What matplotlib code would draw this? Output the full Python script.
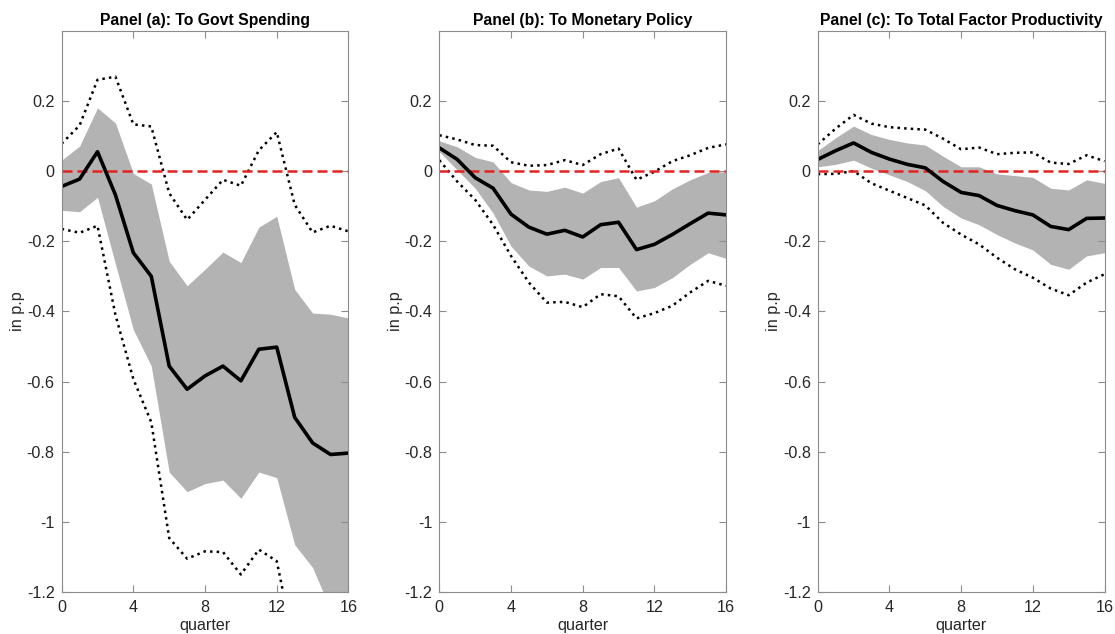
import matplotlib
matplotlib.use('Agg')
import matplotlib.pyplot as plt

plt.rcParams['font.family'] = ['Liberation Sans', 'DejaVu Sans']

quarters = list(range(17))

# panel (a): govt spending
a_med = [-0.044, -0.023, 0.055, -0.068, -0.233, -0.30, -0.556, -0.622, -0.584, -0.556,
         -0.598, -0.508, -0.502, -0.702, -0.775, -0.808, -0.804]
a_hi68 = [0.031, 0.071, 0.180, 0.137, -0.007, -0.037, -0.257, -0.327, -0.28, -0.231,
          -0.261, -0.16, -0.129, -0.337, -0.405, -0.408, -0.419]
a_lo68 = [-0.112, -0.116, -0.075, -0.265, -0.452, -0.556, -0.858, -0.914, -0.891, -0.881,
          -0.933, -0.858, -0.874, -1.065, -1.13, -1.25, -1.32]
a_hi90 = [0.078, 0.13, 0.26, 0.269, 0.133, 0.127, -0.063, -0.139, -0.082, -0.025,
          -0.042, 0.059, 0.111, -0.096, -0.175, -0.156, -0.172]
a_lo90 = [-0.165, -0.176, -0.156, -0.41, -0.593, -0.716, -1.046, -1.105, -1.084, -1.086,
          -1.15, -1.079, -1.112, -1.36, -1.5, -1.6, -1.65]

# panel (b): monetary policy
b_med = [0.066, 0.033, -0.019, -0.049, -0.123, -0.160, -0.180, -0.169, -0.188, -0.153,
         -0.146, -0.224, -0.209, -0.181, -0.150, -0.120, -0.125]
b_hi68 = [0.086, 0.069, 0.039, 0.026, -0.033, -0.054, -0.058, -0.046, -0.063, -0.030,
          -0.019, -0.103, -0.085, -0.051, -0.025, -0.004, -0.002]
b_lo68 = [0.055, 0.003, -0.049, -0.12, -0.214, -0.271, -0.299, -0.294, -0.308, -0.275,
          -0.275, -0.342, -0.332, -0.304, -0.266, -0.233, -0.249]
b_hi90 = [0.102, 0.090, 0.074, 0.072, 0.025, 0.015, 0.017, 0.031, 0.017, 0.048,
          0.064, -0.025, -0.002, 0.028, 0.045, 0.066, 0.076]
b_lo90 = [0.031, -0.030, -0.082, -0.153, -0.242, -0.318, -0.375, -0.373, -0.388, -0.351,
          -0.357, -0.42, -0.405, -0.384, -0.346, -0.313, -0.327]

# panel (c): TFP
c_med = [0.033, 0.058, 0.080, 0.053, 0.034, 0.019, 0.009, -0.030, -0.061, -0.070,
         -0.098, -0.113, -0.125, -0.158, -0.167, -0.135, -0.134]
c_hi68 = [0.058, 0.095, 0.128, 0.104, 0.090, 0.080, 0.074, 0.042, 0.012, 0.012,
          -0.008, -0.013, -0.018, -0.049, -0.054, -0.025, -0.035]
c_lo68 = [0.012, 0.019, 0.031, 0.008, -0.011, -0.030, -0.056, -0.101, -0.134, -0.153,
          -0.181, -0.205, -0.225, -0.266, -0.280, -0.242, -0.233]
c_hi90 = [0.076, 0.121, 0.160, 0.135, 0.125, 0.121, 0.118, 0.092, 0.062, 0.067,
          0.048, 0.052, 0.053, 0.024, 0.020, 0.045, 0.028]
c_lo90 = [-0.009, -0.008, 0.0, -0.035, -0.056, -0.077, -0.098, -0.148, -0.181, -0.209,
          -0.247, -0.280, -0.304, -0.335, -0.354, -0.318, -0.294]

titles = ['Panel (a): To Govt Spending', 'Panel (b): To Monetary Policy',
          'Panel (c): To Total Factor Productivity']
yticks = [-1.2, -1, -0.8, -0.6, -0.4, -0.2, 0, 0.2]
ytick_labels = ['-1.2', '-1', '-0.8', '-0.6', '-0.4', '-0.2', '0', '0.2']
xticks = [0, 4, 8, 12, 16]

panels = [
    (a_med, a_hi68, a_lo68, a_hi90, a_lo90),
    (b_med, b_hi68, b_lo68, b_hi90, b_lo90),
    (c_med, c_hi68, c_lo68, c_hi90, c_lo90),
]
lefts = [0.0553, 0.394, 0.7334]

fig = plt.figure(figsize=(11.15, 6.34), dpi=100)

for i, (med, hi68, lo68, hi90, lo90) in enumerate(panels):
    ax = fig.add_axes([lefts[i], 0.0662, 0.2572, 0.8854])
    ax.fill_between(quarters, lo68, hi68, color='#b3b3b3', linewidth=0)
    ax.plot(quarters, hi90, color='black', linestyle=':', linewidth=1.8)
    ax.plot(quarters, lo90, color='black', linestyle=':', linewidth=1.8)
    ax.axhline(0, color='#e3231f', linestyle=(0, (4, 2)), linewidth=1.8)
    ax.plot(quarters, med, color='black', linewidth=2.6)
    ax.set_xlim(0, 16)
    ax.set_ylim(-1.2, 0.4)
    ax.set_xticks(xticks)
    ax.set_yticks(yticks)
    ax.set_yticklabels(ytick_labels)
    ax.tick_params(direction='in', top=True, right=True, length=5,
                   color='#8c8c8c', labelsize=11.6, labelcolor='#262626')
    ax.tick_params(axis='x', pad=6)
    ax.tick_params(axis='y', pad=5)
    for s in ax.spines.values():
        s.set_color('#8c8c8c')
        s.set_linewidth(0.8)
    ax.set_title(titles[i], fontsize=11.3, fontweight='bold', pad=4)
    ax.set_xlabel('quarter', fontsize=11.6, color='#262626', labelpad=2)
    ax.set_ylabel('in p.p', fontsize=11.6, color='#262626', labelpad=1)

fig.savefig('out.png', dpi=100)
